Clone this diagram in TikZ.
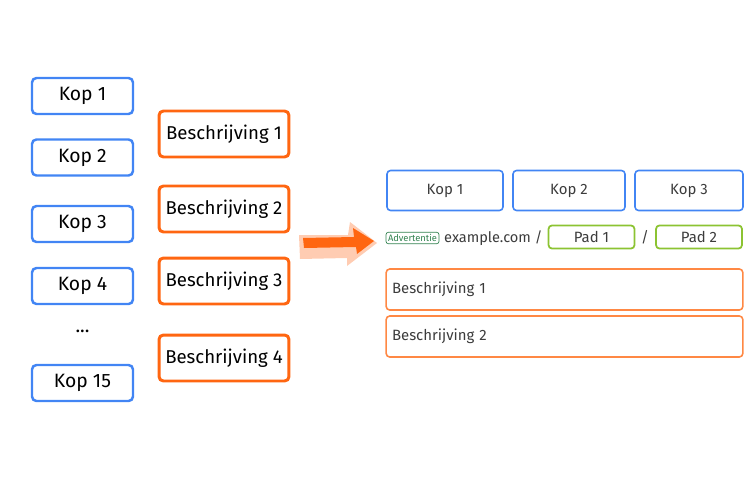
\documentclass[tikz,border=0pt]{standalone}
\usepackage{fontspec}
\setmainfont{Fira Sans}
\usetikzlibrary{positioning}
\definecolor{kopblue}{RGB}{66,133,244}
\definecolor{beschorange}{RGB}{255,102,17}
\definecolor{lightorange}{RGB}{255,136,68}
\definecolor{arrowpeach}{RGB}{255,204,178}
\definecolor{padgreen}{RGB}{140,195,50}
\definecolor{adgreen}{RGB}{50,130,80}
\definecolor{txtgrey}{RGB}{60,60,60}
\tikzset{
  kopbox/.style={rectangle, draw=kopblue, rounded corners=2.5pt,
    minimum width=2.02cm, minimum height=0.72cm, line width=1.4pt,
    font=\fontsize{11}{13}\selectfont},
  beschbox/.style={rectangle, draw=beschorange, rounded corners=2.5pt,
    minimum width=2.6cm, minimum height=0.92cm, line width=1.7pt,
    font=\fontsize{10.6}{13}\selectfont},
  smallkop/.style={rectangle, draw=kopblue, rounded corners=2pt,
    minimum width=2.32cm, minimum height=0.8cm, line width=0.9pt,
    text=txtgrey, font=\fontsize{8.5}{10}\selectfont},
  smallbesch/.style={rectangle, draw=lightorange, rounded corners=2pt,
    minimum width=7.1cm, minimum height=0.82cm, line width=0.9pt,
    text=txtgrey, font=\fontsize{8.5}{10}\selectfont,
    align=left, text width=6.9cm},
  padbox/.style={rectangle, draw=padgreen, rounded corners=2pt,
    minimum width=1.72cm, minimum height=0.44cm, line width=1pt,
    text=txtgrey, font=\fontsize{8.5}{10}\selectfont},
  adtag/.style={rectangle, draw=adgreen, rounded corners=1.5pt,
    line width=0.4pt, text=adgreen, inner sep=1.2pt,
    font=\fontsize{5.3}{6}\selectfont}
}
\begin{document}
\begin{tikzpicture}[x=0.02cm, y=-0.02cm]
  \useasboundingbox (0,0) rectangle (750,500);

  % headlines left
  \node[kopbox] (kop1) at (82.5,96) {Kop 1};
  \node[kopbox] (kop2) at (82.5,157.5) {Kop 2};
  \node[kopbox] (kop3) at (82.5,224) {Kop 3};
  \node[kopbox] (kop4) at (82.5,286) {Kop 4};
  \node[font=\fontsize{11}{13}\selectfont] (dots) at (82.5,331) {...};
  \node[kopbox] (kop15) at (82.5,383) {Kop 15};

  % descriptions left
  \node[beschbox] (besch1) at (224,134) {Beschrijving 1};
  \node[beschbox] (besch2) at (224,209) {Beschrijving 2};
  \node[beschbox] (besch3) at (224,281) {Beschrijving 3};
  \node[beschbox] (besch4) at (224,358) {Beschrijving 4};

  % big arrow
  \fill[arrowpeach] (299,235) -- (348,235) -- (350,222) -- (377,243)
    -- (347,266) -- (347,258) -- (300,259) -- cycle;
  \fill[beschorange] (303,238) -- (354,237) -- (353,228) -- (374,241)
    -- (357,254) -- (356,247) -- (304,248) -- cycle;

  % ad preview right
  \node[smallkop, minimum width=2.32cm] (adkop1) at (445,190.5) {Kop 1};
  \node[smallkop, minimum width=2.24cm] (adkop2) at (569,190.5) {Kop 2};
  \node[smallkop, minimum width=2.16cm] (adkop3) at (689,190.5) {Kop 3};

  \node[adtag] (adlabel) at (412.5,238) {Advertentie};
  \node[right=1.5pt of adlabel, text=txtgrey, inner sep=1pt,
    font=\fontsize{8.3}{10}\selectfont] (domain) {example.com /};
  \node[padbox] (pad1) at (591.5,237) {Pad 1};
  \node[text=txtgrey, font=\fontsize{8.5}{10}\selectfont] (slash) at (645,237) {/};
  \node[padbox] (pad2) at (699,237) {Pad 2};

  \node[smallbesch] (adbesch1) at (564.5,289.5) {Beschrijving 1};
  \node[smallbesch] (adbesch2) at (564.5,336.5) {Beschrijving 2};
\end{tikzpicture}
\end{document}
